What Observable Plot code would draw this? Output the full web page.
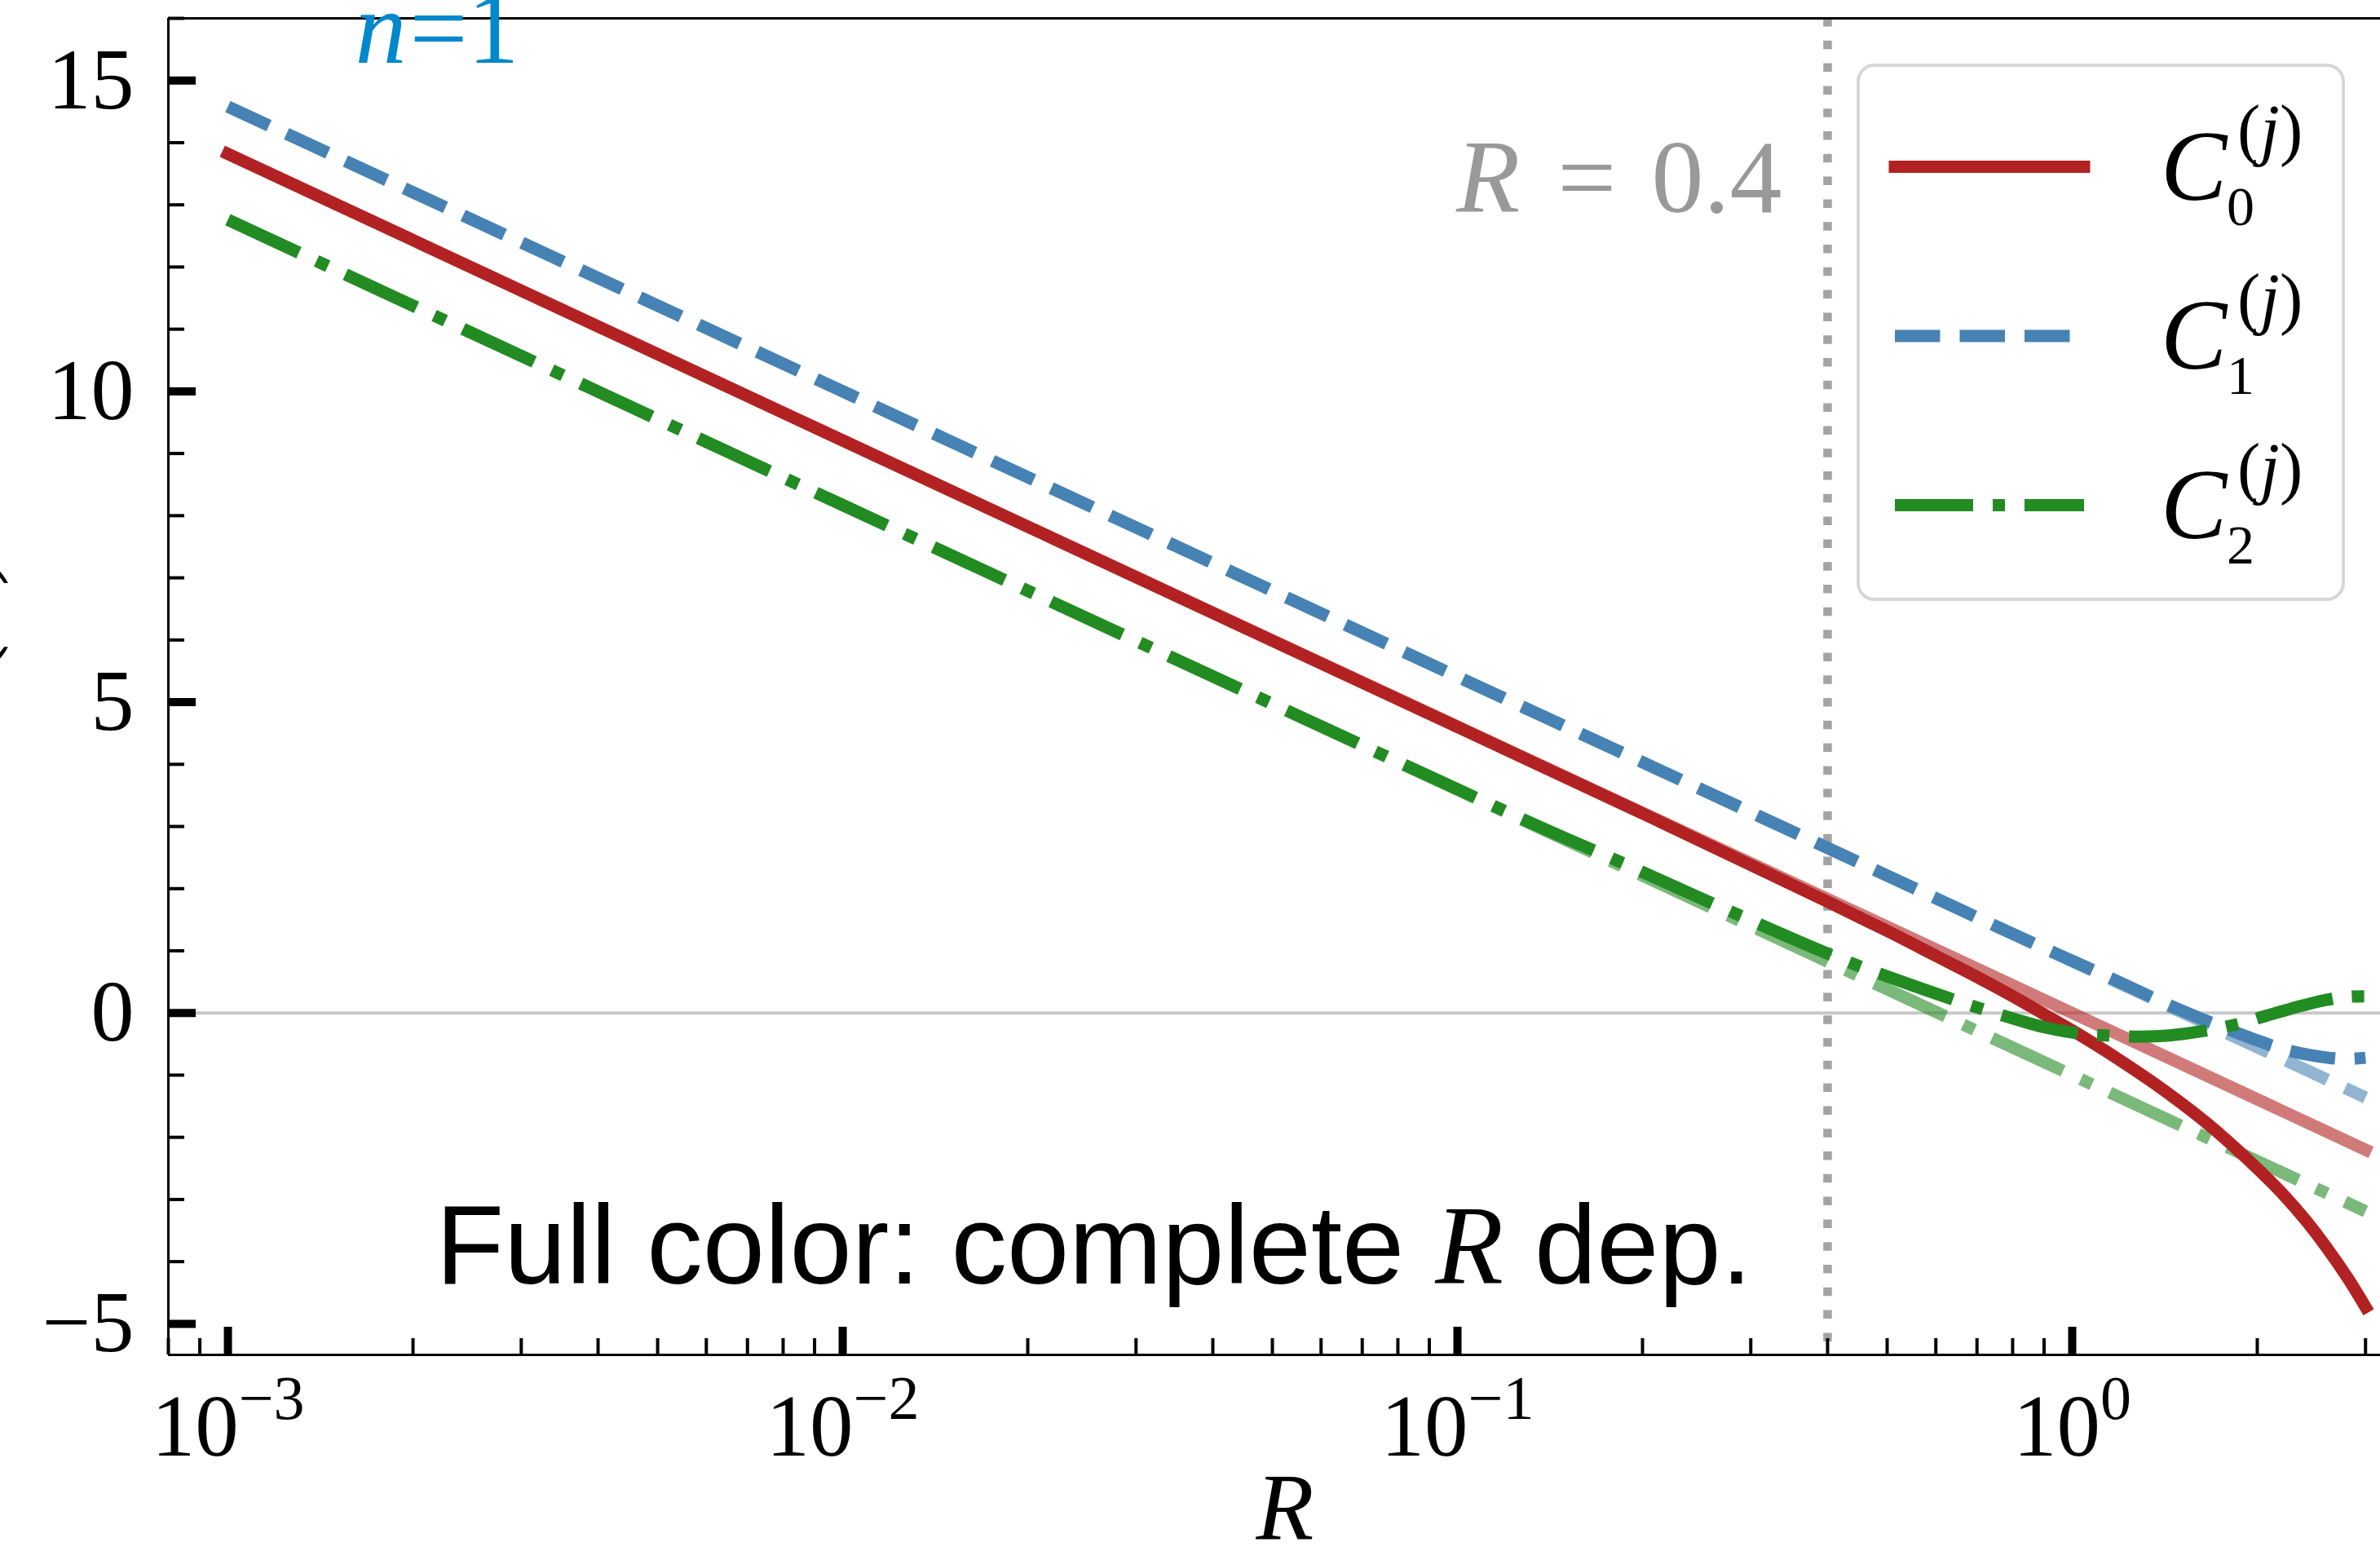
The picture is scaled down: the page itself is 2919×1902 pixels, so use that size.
<!DOCTYPE html>
<html>
<head>
<meta charset="utf-8">
<script src="https://cdn.jsdelivr.net/npm/d3@7"></script>
<script src="https://cdn.jsdelivr.net/npm/@observablehq/plot@0.6"></script>
<style>
  html, body { margin: 0; padding: 0; background: #fff; overflow: hidden; }
  #wrap { position: relative; width: 2919px; height: 1902px; overflow: hidden; background: #fff; }
  #wrap > svg { display: block; }
  #legend { position: absolute; left: 0; top: 0; pointer-events: none; }
</style>
</head>
<body>
<div id="wrap"></div>
<script>
// ---------------- data ----------------
const seriesSubscripts = ["0", "1", "2"];
const seriesColors = ["#b22222", "#4682b4", "#228b22"];
const seriesDash = [null, "55.5,24", "96,24,15,24"];

// complete R dependence (full colour)
const R_C0 = [0.001, 0.01, 0.1, 0.2, 0.3, 0.4, 0.5, 0.6, 0.7, 0.8, 0.9, 1.0, 1.1, 1.2, 1.35, 1.5, 1.65, 1.8, 2.0, 2.2, 2.4, 2.6, 2.8, 3.0];
const C0   = [13.82, 9.21, 4.6, 3.21, 2.38, 1.79, 1.32, 0.92, 0.58, 0.27, -0.02, -0.28, -0.53, -0.77, -1.11, -1.44, -1.76, -2.08, -2.5, -2.91, -3.34, -3.79, -4.25, -4.73];

const R_C1 = [0.001, 0.01, 0.1, 0.3, 0.5, 0.75, 0.93, 1.15, 1.42, 1.6, 1.77, 2.0, 2.2, 2.45, 2.75, 3.0];
const C1   = [14.58, 10.0, 5.41, 3.23, 2.21, 1.40, 0.98, 0.57, 0.15, -0.07, -0.24, -0.44, -0.58, -0.68, -0.74, -0.72];

const R_C2 = [0.001, 0.01, 0.1, 0.14, 0.18, 0.28, 0.42, 0.53, 0.63, 0.7, 0.82, 0.91, 1.03, 1.19, 1.3, 1.44, 1.66, 1.89, 2.06, 2.27, 2.59, 2.8, 3.0];
const C2   = [12.76, 8.17, 3.60, 2.94, 2.47, 1.62, 0.87, 0.50, 0.24, 0.09, -0.12, -0.24, -0.33, -0.37, -0.38, -0.36, -0.28, -0.16, -0.05, 0.07, 0.21, 0.26, 0.27];

// leading small-R behaviour (faint)
const R_lead  = [0.001, 0.01, 0.1, 1, 3];
const C0_lead = [13.82, 9.21, 4.61, 0.0, -2.2];
const C1_lead = [14.58, 10.0, 5.41, 0.83, -1.36];
const C2_lead = [12.76, 8.17, 3.59, -1.0, -3.19];

const zeroLine = [0];
const refR = [0.4];

const xMajorTicks = [0.001, 0.01, 0.1, 1];
const xMinorTicks = [0.0008, 0.0009, 0.002, 0.003, 0.004, 0.005, 0.006, 0.007, 0.008, 0.009,
                     0.02, 0.03, 0.04, 0.05, 0.06, 0.07, 0.08, 0.09,
                     0.2, 0.3, 0.4, 0.5, 0.6, 0.7, 0.8, 0.9, 2, 3];
const yMajorTicks = [-5, 0, 5, 10, 15];
const yMinorTicks = [-4, -3, -2, -1, 1, 2, 3, 4, 6, 7, 8, 9, 11, 12, 13, 14, 16];
const xDomain = [0.0008, 3.172];
const yDomain = [-5.5, 16];

const textN = "n=1";
const textRef = "R = 0.4";
const textNote = "Full color: complete R dep.";
const xLabel = "R";
const yLabel = "C(j)(R)";

// ---------------- build ----------------
const toRows = (R, V) => R.map((r, i) => ({R: r, v: V[i]}));
const fullSets = [toRows(R_C0, C0), toRows(R_C1, C1), toRows(R_C2, C2)];
const leadSets = [toRows(R_lead, C0_lead), toRows(R_lead, C1_lead), toRows(R_lead, C2_lead)];

const lineMarks = (sets, opacity, curve) => sets.map((rows, i) => Plot.line(rows, {
  x: "R", y: "v",
  stroke: seriesColors[i],
  strokeWidth: 15,
  strokeOpacity: opacity,
  strokeDasharray: seriesDash[i] || undefined,
  strokeLinecap: seriesDash[i] ? "butt" : "square",
  strokeLinejoin: "round",
  curve
}));

const minus = d => d < 0 ? "\u2212" + (-d) : String(d);

const chart = Plot.plot({
  width: 2919,
  height: 1902,
  marginLeft: 206,
  marginRight: 0,
  marginTop: 22,
  marginBottom: 241,
  x: {type: "log", domain: xDomain, axis: null},
  y: {domain: yDomain, axis: null},
  style: {fontFamily: "'Liberation Serif', serif", fontSize: "104px", background: "white", overflow: "visible", color: "black"},
  marks: [
    Plot.ruleY(zeroLine, {stroke: "#c8c8c8", strokeWidth: 4}),
    Plot.ruleX(refR, {stroke: "#a3a3a3", strokeWidth: 10.5, strokeDasharray: "10.5,17.3"}),
    ...lineMarks(leadSets, 0.6, "linear"),
    ...lineMarks(fullSets, 1, "catmull-rom"),
    // spines
    Plot.ruleX([xDomain[0]], {stroke: "black", strokeWidth: 3}),
    Plot.ruleY([yDomain[0], yDomain[1]], {stroke: "black", strokeWidth: 3}),
    // axes (ticks pointing inward)
    Plot.axisX(xMajorTicks, {anchor: "bottom", tickSize: -34, tickPadding: 82, strokeWidth: 10, fontSize: 107, label: null,
      tickFormat: d => "10^" + Math.round(Math.log10(d))}),
    Plot.axisX(xMinorTicks, {anchor: "bottom", tickSize: -20, strokeWidth: 4, fill: "none", label: null}),
    Plot.axisY(yMajorTicks, {anchor: "left", tickSize: -34, tickPadding: 76, strokeWidth: 10, fontSize: 106, label: null, tickFormat: minus}),
    Plot.axisY(yMinorTicks, {anchor: "left", tickSize: -20, strokeWidth: 4, fill: "none", label: null}),
    // annotations
    Plot.text([textN], {text: d => d, frameAnchor: "top-left", dx: 229, dy: 54, lineAnchor: "bottom", textAnchor: "start",
      fill: "#0088cc", fontSize: 126}),
    Plot.text(refR, {x: d => d, text: () => textRef, frameAnchor: "top", dx: -56, dy: 237, lineAnchor: "bottom", textAnchor: "end",
      fill: "#999999", fontSize: 128}),
    Plot.text([textNote], {text: d => d, frameAnchor: "bottom-left", dx: 328, dy: -88, lineAnchor: "bottom", textAnchor: "start",
      fill: "black", fontSize: 137, fontFamily: "'Liberation Sans', Arial, sans-serif"}),
    Plot.text([xLabel], {text: d => d, frameAnchor: "bottom", dx: 13, dy: 226, lineAnchor: "bottom", fontStyle: "italic",
      fill: "black", fontSize: 116}),
    Plot.text([yLabel], {text: d => d, frameAnchor: "left", dx: -222, dy: 140, rotate: -90, lineAnchor: "bottom",
      fill: "black", fontSize: 116})
  ]
});

// ---------------- rich text post-processing ----------------
const NS = "http://www.w3.org/2000/svg";
function setRich(el, parts) {
  el.textContent = "";
  for (const [t, attrs] of parts) {
    const ts = document.createElementNS(NS, "tspan");
    for (const k in attrs) ts.setAttribute(k, attrs[k]);
    ts.textContent = t;
    el.appendChild(ts);
  }
}
chart.querySelectorAll("text").forEach(el => {
  const s = el.textContent;
  if (s === textN) {
    setRich(el, [["n", {"font-style": "italic"}], ["=1", {dx: 4}]]);
  } else if (s === textRef) {
    setRich(el, [["R", {"font-style": "italic"}], ["=", {dx: 46}], ["0.4", {dx: 43}]]);
  } else if (s === textNote) {
    setRich(el, [["Full color: complete ", {}],
                 ["R", {"font-style": "italic", "font-family": "'Liberation Serif', serif"}],
                 [" dep.", {}]]);
  } else if (s === yLabel) {
    setRich(el, [["C", {"font-style": "italic"}],
                 ["(", {dy: -42, "font-size": 81}], ["j", {"font-style": "italic", "font-size": 81}], [")", {"font-size": 81}],
                 ["(", {dy: 42}], ["R", {"font-style": "italic"}], [")", {}]]);
  } else if (/^10\^/.test(s)) {
    const e = +s.slice(3);
    setRich(el, [["10", {}], [minus(e), {dy: -45, "font-size": 76}]]);
  }
});

const wrap = document.getElementById("wrap");
wrap.appendChild(chart);

// ---------------- legend (overlay) ----------------
const L = d3.create("svg").attr("id", "legend").attr("width", 2919).attr("height", 1902)
  .attr("font-family", "'Liberation Serif', serif");
L.append("rect").attr("x", 2279).attr("y", 80).attr("width", 595).attr("height", 655).attr("rx", 20)
  .attr("fill", "white").attr("fill-opacity", 0.8).attr("stroke", "#d6d6d6").attr("stroke-width", 4);
seriesSubscripts.forEach((sub, i) => {
  const y = 204.5 + i * 207.5;
  L.append("line").attr("x1", 2324).attr("x2", 2556).attr("y1", y).attr("y2", y)
    .attr("stroke", seriesColors[i]).attr("stroke-width", 15)
    .attr("stroke-dasharray", seriesDash[i])
    .attr("stroke-linecap", seriesDash[i] ? "butt" : "square");
  L.append("text").attr("x", 2650).attr("y", y + 40).attr("font-size", 122).attr("font-style", "italic").text("C");
  L.append("text").attr("x", 2731).attr("y", y + 71).attr("font-size", 68).text(sub);
  const sup = L.append("text").attr("x", 2744).attr("y", y - 18).attr("font-size", 85);
  sup.append("tspan").text("(");
  sup.append("tspan").attr("font-style", "italic").text("j");
  sup.append("tspan").text(")");
});
wrap.appendChild(L.node());
</script>
</body>
</html>
